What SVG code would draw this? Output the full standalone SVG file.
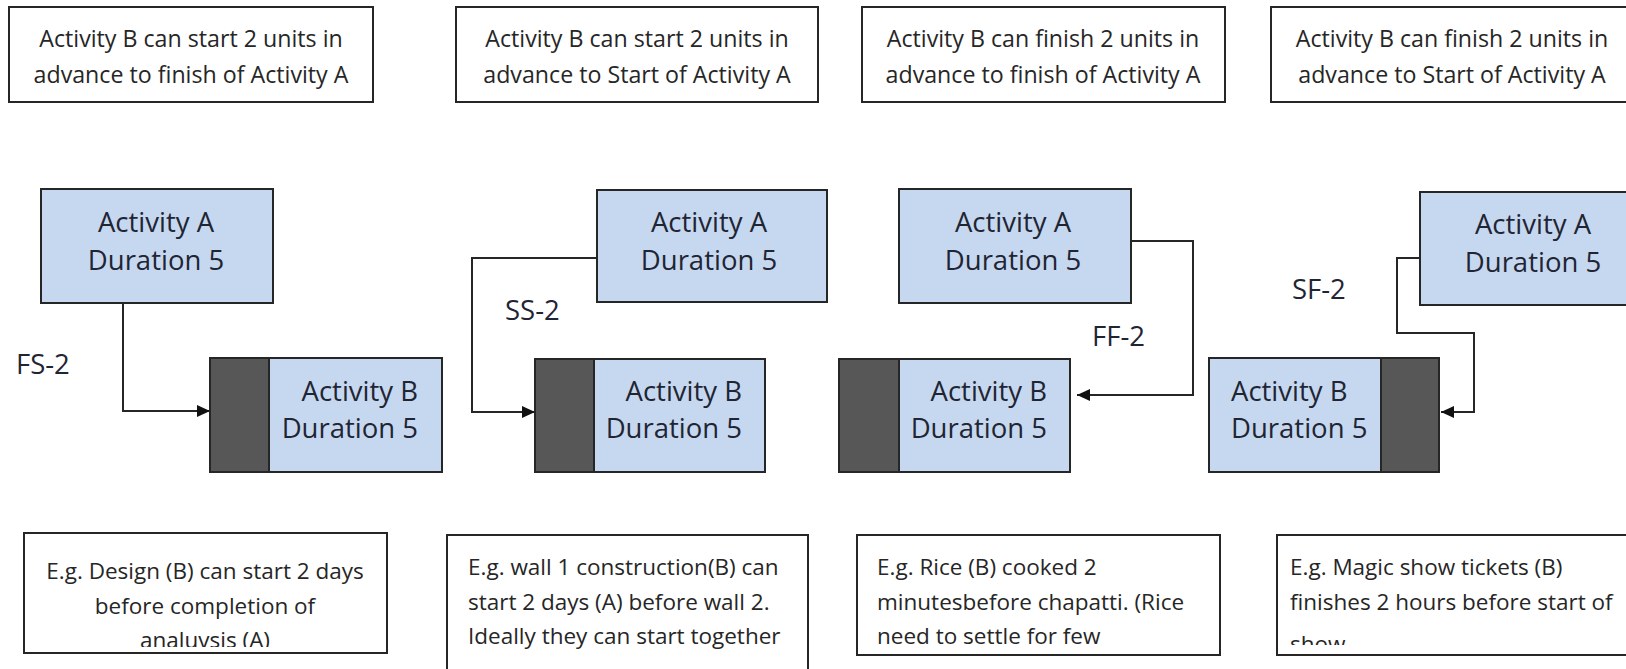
<svg xmlns="http://www.w3.org/2000/svg" width="1626" height="669" viewBox="0 0 1626 669">
<style>
.box{fill:#ffffff;stroke:#262626;stroke-width:2}
.node{fill:#c6d8ef;stroke:#262626;stroke-width:2}
.dark{fill:#575757;stroke:#262626;stroke-width:2}
.st{font-family:"Open Sans","Liberation Sans",sans-serif;font-size:22.5px;fill:#262626}
.tt{font-family:"Open Sans","Liberation Sans",sans-serif;font-size:23.2px;fill:#262626}
.bt{font-family:"Open Sans","Liberation Sans",sans-serif;font-size:27.5px;fill:#1f2533}
.c{text-anchor:middle}
.e{text-anchor:end}
.conn{fill:none;stroke:#262626;stroke-width:2}
</style>
<defs>
<marker id="arr" viewBox="0 0 13 12" refX="13" refY="6" markerWidth="13" markerHeight="12" markerUnits="userSpaceOnUse" orient="auto">
<path d="M0,0 L13,6 L0,12 Z" fill="#111111"/>
</marker>
<clipPath id="clip1"><rect x="24" y="533" width="363" height="114"/></clipPath>
<clipPath id="clip4"><rect x="1277" y="535" width="363" height="110"/></clipPath>
</defs>
<rect width="1626" height="669" fill="#ffffff"/>

<g id="desc-fs">
<rect class="box" x="9" y="7" width="364" height="95"/>
<text class="tt c" x="191" y="47">Activity B can start 2 units in</text>
<text class="tt c" x="191" y="83">advance to finish of Activity A</text>
</g>
<g id="desc-ss">
<rect class="box" x="456" y="7" width="362" height="95"/>
<text class="tt c" x="637" y="47">Activity B can start 2 units in</text>
<text class="tt c" x="637" y="83">advance to Start of Activity A</text>
</g>
<g id="desc-ff">
<rect class="box" x="862" y="7" width="363" height="95"/>
<text class="tt c" x="1043" y="47">Activity B can finish 2 units in</text>
<text class="tt c" x="1043" y="83">advance to finish of Activity A</text>
</g>
<g id="desc-sf">
<rect class="box" x="1271" y="7" width="364" height="95"/>
<text class="tt c" x="1452" y="47">Activity B can finish 2 units in</text>
<text class="tt c" x="1452" y="83">advance to Start of Activity A</text>
</g>

<g id="connectors">
<path class="conn" d="M123,303 V411 H210" marker-end="url(#arr)"/>
<path class="conn" d="M597,258 H472 V412 H535" marker-end="url(#arr)"/>
<path class="conn" d="M1131,241 H1193 V395 H1077" marker-end="url(#arr)"/>
<path class="conn" d="M1420,258 H1397 V333 H1474 V412 H1441" marker-end="url(#arr)"/>
</g>

<g id="fs-a">
<rect class="node" x="41" y="189" width="232" height="114"/>
<text class="bt c" x="156" y="232">Activity A</text>
<text class="bt c" x="156" y="270">Duration 5</text>
</g>
<g id="fs-b">
<rect class="node" x="210" y="358" width="232" height="114"/>
<rect class="dark" x="210" y="358" width="59" height="114"/>
<text class="bt e" x="418" y="401">Activity B</text>
<text class="bt e" x="418" y="438">Duration 5</text>
</g>
<g id="fs-label"><text class="bt" x="16" y="374">FS-2</text></g>

<g id="ss-a">
<rect class="node" x="597" y="190" width="230" height="112"/>
<text class="bt c" x="709" y="232">Activity A</text>
<text class="bt c" x="709" y="270">Duration 5</text>
</g>
<g id="ss-b">
<rect class="node" x="535" y="359" width="230" height="113"/>
<rect class="dark" x="535" y="359" width="59" height="113"/>
<text class="bt e" x="742" y="401">Activity B</text>
<text class="bt e" x="742" y="438">Duration 5</text>
</g>
<g id="ss-label"><text class="bt" x="505" y="320">SS-2</text></g>

<g id="ff-a">
<rect class="node" x="899" y="189" width="232" height="114"/>
<text class="bt c" x="1013" y="232">Activity A</text>
<text class="bt c" x="1013" y="270">Duration 5</text>
</g>
<g id="ff-b">
<rect class="node" x="839" y="359" width="231" height="113"/>
<rect class="dark" x="839" y="359" width="60" height="113"/>
<text class="bt e" x="1047" y="401">Activity B</text>
<text class="bt e" x="1047" y="438">Duration 5</text>
</g>
<g id="ff-label"><text class="bt" x="1092" y="346">FF-2</text></g>

<g id="sf-a">
<rect class="node" x="1420" y="192" width="232" height="113"/>
<text class="bt c" x="1533" y="234">Activity A</text>
<text class="bt c" x="1533" y="272">Duration 5</text>
</g>
<g id="sf-b">
<rect class="node" x="1209" y="358" width="230" height="114"/>
<rect class="dark" x="1381" y="358" width="58" height="114"/>
<text class="bt" x="1231" y="401">Activity B</text>
<text class="bt" x="1231" y="438">Duration 5</text>
</g>
<g id="sf-label"><text class="bt" x="1292" y="299">SF-2</text></g>

<g id="ex-fs">
<rect class="box" x="24" y="533" width="363" height="120"/>
<g clip-path="url(#clip1)">
<text class="st c" x="205" y="579">E.g. Design (B) can start 2 days</text>
<text class="st c" x="205" y="614">before completion of</text>
<text class="st c" x="205" y="648">analuvsis (A)</text>
</g>
</g>
<g id="ex-ss">
<rect class="box" x="447" y="535" width="361" height="150"/>
<text class="st" x="468" y="575">E.g. wall 1 construction(B) can</text>
<text class="st" x="468" y="610">start 2 days (A) before wall 2.</text>
<text class="st" x="468" y="644">Ideally they can start together</text>
</g>
<g id="ex-ff">
<rect class="box" x="857" y="535" width="363" height="120"/>
<text class="st" x="877" y="575">E.g. Rice (B) cooked 2</text>
<text class="st" x="877" y="610">minutesbefore chapatti. (Rice</text>
<text class="st" x="877" y="644">need to settle for few</text>
</g>
<g id="ex-sf">
<rect class="box" x="1277" y="535" width="363" height="120"/>
<g clip-path="url(#clip4)">
<text class="st" x="1290" y="575">E.g. Magic show tickets (B)</text>
<text class="st" x="1290" y="610">finishes 2 hours before start of</text>
<text class="st" x="1290" y="652">show</text>
</g>
</g>
</svg>
